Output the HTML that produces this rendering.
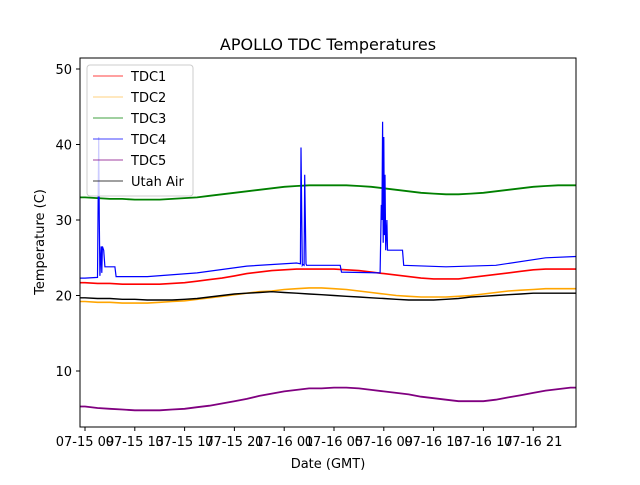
<!DOCTYPE html>
<html><head><meta charset="utf-8"><style>
body{margin:0;background:#fff}
svg text{font-family:"DejaVu Sans","Liberation Sans",sans-serif;fill:#000}
</style></head><body>
<svg id="c" width="640" height="480">
<defs><clipPath id="cp"><rect x="80" y="58" width="496" height="369"/></clipPath></defs>
<text x="328" y="50" text-anchor="middle" font-size="16">APOLLO TDC Temperatures</text>
<text x="328" y="468" text-anchor="middle" font-size="13">Date (GMT)</text>
<text transform="translate(44,242) rotate(-90)" text-anchor="middle" font-size="13">Temperature (C)</text>
<g id="series" clip-path="url(#cp)"></g>
<g id="axes"></g>
</svg>
<script>
const hours=[8,9,10,11,12,13,14,15,16,17,18,19,20,21,22,23,24,25,26,27,28,29,30,31,32,33,34,35,36,37,38,39,40,41,42,43,44,45,46,47,48,49];
const tdc1=[21.7,21.7,21.6,21.6,21.5,21.5,21.5,21.5,21.6,21.7,21.9,22.1,22.3,22.6,22.9,23.1,23.3,23.4,23.5,23.5,23.5,23.5,23.4,23.3,23.1,22.9,22.7,22.5,22.3,22.2,22.2,22.2,22.4,22.6,22.8,23.0,23.2,23.4,23.5,23.5,23.5,23.5];
const tdc2=[19.2,19.2,19.1,19.1,19.0,19.0,19.0,19.1,19.2,19.3,19.5,19.7,19.9,20.1,20.3,20.5,20.6,20.8,20.9,21.0,21.0,20.9,20.8,20.6,20.4,20.2,20.0,19.9,19.8,19.8,19.8,19.9,20.0,20.2,20.4,20.6,20.7,20.8,20.9,20.9,20.9,20.9];
const tdc3=[33.0,33.0,32.9,32.8,32.8,32.7,32.7,32.7,32.8,32.9,33.0,33.2,33.4,33.6,33.8,34.0,34.2,34.4,34.5,34.6,34.6,34.6,34.6,34.5,34.4,34.2,34.0,33.8,33.6,33.5,33.4,33.4,33.5,33.6,33.8,34.0,34.2,34.4,34.5,34.6,34.6,34.6];
const tdc5=[5.3,5.3,5.1,5.0,4.9,4.8,4.8,4.8,4.9,5.0,5.2,5.4,5.7,6.0,6.3,6.7,7.0,7.3,7.5,7.7,7.7,7.8,7.8,7.7,7.5,7.3,7.1,6.9,6.6,6.4,6.2,6.0,6.0,6.0,6.2,6.5,6.8,7.1,7.4,7.6,7.8,7.8];
const utahAir=[19.7,19.7,19.6,19.6,19.5,19.5,19.4,19.4,19.4,19.5,19.6,19.8,20.0,20.2,20.3,20.4,20.5,20.4,20.3,20.2,20.1,20.0,19.9,19.8,19.7,19.6,19.5,19.4,19.4,19.4,19.5,19.6,19.8,19.9,20.0,20.1,20.2,20.3,20.3,20.3,20.3,20.3];
const tdc4Hours=[8,9,10.0,10.1,10.15,10.2,10.3,10.35,10.4,10.5,10.6,10.7,11.4,11.5,14,18,22,26,26.3,26.35,26.45,26.5,26.6,26.65,26.75,26.8,29.5,29.6,32.7,32.8,32.85,32.9,32.95,33.0,33.05,33.1,33.15,33.25,33.3,33.5,34.5,34.6,38,42,46,49];
const tdc4=[22.3,22.3,22.4,41.0,30.0,22.6,26.5,23.0,26.5,26.0,23.8,23.8,23.8,22.5,22.5,23.0,23.9,24.3,24.2,39.6,24.0,24.1,24.0,36.0,24.2,24.0,24.0,23.1,23.0,32.0,30.0,43.0,27.0,41.0,28.0,36.0,26.0,30.0,26.0,26.0,26.0,24.0,23.8,24.0,25.0,25.2];
const yTicks=[10,20,30,40,50];
const xTickHours=[9,13,17,21,25,29,33,37,41,45];
const xTickLabels=["07-15 09","07-15 13","07-15 17","07-15 21","07-16 01","07-16 05","07-16 09","07-16 13","07-16 17","07-16 21"];
const legendNames=["TDC1","TDC2","TDC3","TDC4","TDC5","Utah Air"];
const legendColors=["#ff0000","#ffa500","#008000","#0000ff","#800080","#000000"];

const X=h=>85+(h-9)*12.45;
const Y=v=>295.5-(v-20)*7.55;
const NS="http://www.w3.org/2000/svg";
function mk(t,a,p){const e=document.createElementNS(NS,t);for(const k in a)e.setAttribute(k,a[k]);p.appendChild(e);return e;}
const sg=document.getElementById('series'),ag=document.getElementById('axes');
function line(xs,ys,color,w,name){
  const d=xs.map((h,i)=>(i?'L':'M')+X(h).toFixed(1)+','+Y(ys[i]).toFixed(1)).join('');
  const p=mk('path',{d:d,fill:'none',stroke:color,'stroke-width':w},sg);
  
  
}
line(hours,tdc3,'#008000',1.8,'tdc3-line');
line(hours,tdc5,'#800080',1.8,'tdc5-line');
line(hours,tdc2,'#ffa500',1.6,'tdc2-line');
line(hours,utahAir,'#000000',1.4,'utah-air-line');
line(hours,tdc1,'#ff0000',1.6,'tdc1-line');
line(tdc4Hours,tdc4,'#0000ff',1.2,'tdc4-line');

const fr=mk('rect',{x:80,y:58,width:496,height:369,fill:'none',stroke:'#000','stroke-width':1},ag);


yTicks.forEach(v=>{
  const y=Y(v);
  const t=mk('line',{x1:76,x2:80,y1:y,y2:y,stroke:'#000'},ag);
  
  
  const l=mk('text',{x:72,y:y+5,'text-anchor':'end','font-size':13},ag);l.textContent=v;
  
  
});
xTickHours.forEach((h,i)=>{
  const x=X(h);
  const t=mk('line',{x1:x,x2:x,y1:427,y2:431,stroke:'#000'},ag);
  
  
  const l=mk('text',{x:x,y:446,'text-anchor':'middle','font-size':13},ag);l.textContent=xTickLabels[i];
  
  
});
const lg=mk('g',{},ag);


mk('rect',{x:87,y:65,width:106,height:131,rx:3,fill:'#fff','fill-opacity':0.8,stroke:'#ccc'},lg);
legendNames.forEach((n,i)=>{
  const y=76+i*21;
  const g=mk('g',{},lg);
  
  
  mk('line',{x1:93,x2:123,y1:y,y2:y,stroke:legendColors[i],'stroke-width':i==1?0.6:0.8},g);
  const t=mk('text',{x:131,y:y+5,'font-size':13},g);t.textContent=n;
});
</script>
</body></html>
